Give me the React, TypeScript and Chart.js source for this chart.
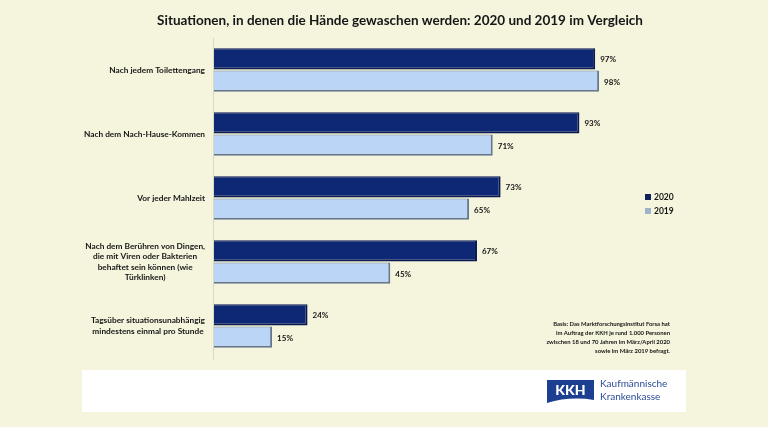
import React, { useEffect, useRef } from "react";
import { Chart, registerables } from "chart.js";

Chart.register(...registerables);

const TITLE = "Situationen, in denen die Hände gewaschen werden: 2020 und 2019 im Vergleich";
const CATEGORIES: string[][] = [
  ["Nach jedem Toilettengang"],
  ["Nach dem Nach-Hause-Kommen"],
  ["Vor jeder Mahlzeit"],
  ["Nach dem Berühren von Dingen,", "die mit Viren oder Bakterien", "behaftet sein können (wie", "Türklinken)"],
  ["Tagsüber situationsunabhängig", "mindestens einmal pro Stunde"],
];
const SERIES_2020 = [97, 93, 73, 67, 24];
const SERIES_2019 = [98, 71, 65, 45, 15];
const SERIES_NAMES = ["2020", "2019"];
const NOTE_LINES = [
  "Basis: Das Marktforschungsinstitut Forsa hat",
  "im Auftrag der KKH je rund 1.000 Personen",
  "zwischen 18 und 70 Jahren im März/April 2020",
  "sowie im März 2019 befragt.",
];
const LOGO_TEXT = ["Kaufmännische", "Krankenkasse"];

const FONT = "Lato, 'Open Sans', sans-serif";

const decorPlugin = {
  id: "decor",
  beforeDraw(chart: any) {
    const ctx = chart.ctx;
    ctx.save();
    ctx.fillStyle = "#f5f4dc";
    ctx.fillRect(0, 0, chart.width, chart.height);
    ctx.fillStyle = "#ffffff";
    ctx.fillRect(82, 370, 604, 42);
    ctx.restore();
  },
  afterDraw(chart: any) {
    const ctx = chart.ctx;
    const yScale = chart.scales.y;
    const area = chart.chartArea;
    ctx.save();
    // title
    ctx.fillStyle = "#161616";
    ctx.font = `bold 13.5px ${FONT}`;
    ctx.textAlign = "center";
    ctx.textBaseline = "middle";
    ctx.fillText(TITLE, 400, 21);

    // axis line
    ctx.strokeStyle = "#d9d8c4";
    ctx.lineWidth = 1;
    ctx.beginPath();
    ctx.moveTo(area.left + 0.5, area.top);
    ctx.lineTo(area.left + 0.5, area.bottom + 2);
    ctx.stroke();

    // category labels
    ctx.font = `bold 8.3px ${FONT}`;
    ctx.fillStyle = "#161616";
    ctx.textBaseline = "middle";
    ctx.textAlign = "center";
    const lh = 10.4;
    const rightX = area.left - 8;
    CATEGORIES.forEach((lines, i) => {
      const cy = yScale.getPixelForValue(i);
      const maxW = Math.max(...lines.map((l) => ctx.measureText(l).width));
      const cx = rightX - maxW / 2;
      lines.forEach((l, j) => {
        ctx.fillText(l, cx, cy + (j - (lines.length - 1) / 2) * lh);
      });
    });

    // data labels
    ctx.font = `bold 8px ${FONT}`;
    ctx.textAlign = "left";
    chart.data.datasets.forEach((ds: any, di: number) => {
      const meta = chart.getDatasetMeta(di);
      meta.data.forEach((bar: any, i: number) => {
        ctx.fillText(ds.data[i] + "%", bar.x + 5, bar.y + 1);
      });
    });

    // legend
    ctx.font = `bold 8.5px ${FONT}`;
    chart.data.datasets.forEach((ds: any, di: number) => {
      const y = 197 + di * 14;
      ctx.fillStyle = di === 0 ? "#10205c" : "#9fb2c8";
      ctx.fillRect(645, y - 3, 6, 6);
      ctx.fillStyle = "#161616";
      ctx.fillText(ds.label, 654, y + 0.5);
    });

    // note
    ctx.font = `bold 5.9px ${FONT}`;
    ctx.textAlign = "right";
    NOTE_LINES.forEach((l, i) => {
      ctx.fillText(l, 670, 324 + i * 9);
    });

    // logo
    ctx.fillStyle = "#1d3f92";
    ctx.beginPath();
    ctx.moveTo(547, 380);
    ctx.lineTo(594, 380);
    ctx.lineTo(594, 400);
    ctx.quadraticCurveTo(570, 396, 547, 403);
    ctx.closePath();
    ctx.fill();
    ctx.fillStyle = "#ffffff";
    ctx.font = `900 14px ${FONT}`;
    ctx.textAlign = "center";
    ctx.fillText("KKH", 570.5, 390.5);
    ctx.fillStyle = "#2c4b98";
    ctx.font = `10px ${FONT}`;
    ctx.textAlign = "left";
    ctx.fillText(LOGO_TEXT[0], 600, 384);
    ctx.fillText(LOGO_TEXT[1], 600, 397);
    ctx.restore();
  },
};

export default function App() {
  const ref = useRef<HTMLCanvasElement>(null);
  useEffect(() => {
    const chart = new Chart(ref.current!, {
      type: "bar",
      data: {
        labels: CATEGORIES.map((c) => c.join(" ")),
        datasets: [
          {
            label: SERIES_NAMES[0],
            data: SERIES_2020,
            backgroundColor: "#0f2876",
            borderColor: "#0a1a4e",
            borderWidth: { top: 1, left: 0, right: 2, bottom: 2 },
            borderSkipped: false,
            categoryPercentage: 0.7,
            barPercentage: 0.95,
          },
          {
            label: SERIES_NAMES[1],
            data: SERIES_2019,
            backgroundColor: "#bad5f6",
            borderColor: "#66778f",
            borderWidth: { top: 1, left: 0, right: 2, bottom: 2 },
            borderSkipped: false,
            categoryPercentage: 0.7,
            barPercentage: 0.95,
          },
        ],
      },
      options: {
        indexAxis: "y",
        animation: false,
        responsive: false,
        maintainAspectRatio: false,
        layout: { padding: { left: 213, right: 161, top: 38, bottom: 69 } },
        scales: {
          x: { display: false, min: 0, max: 100 },
          y: { display: false },
        },
        plugins: {
          legend: { display: false },
          title: { display: false },
          tooltip: { enabled: false },
        },
      },
      plugins: [decorPlugin],
    } as any);
    return () => chart.destroy();
  }, []);
  return (
    <div style={{ position: "fixed", left: 0, top: 0, width: 768, height: 427 }}>
      <canvas ref={ref} width={768} height={427} style={{ width: 768, height: 427 }} />
    </div>
  );
}
